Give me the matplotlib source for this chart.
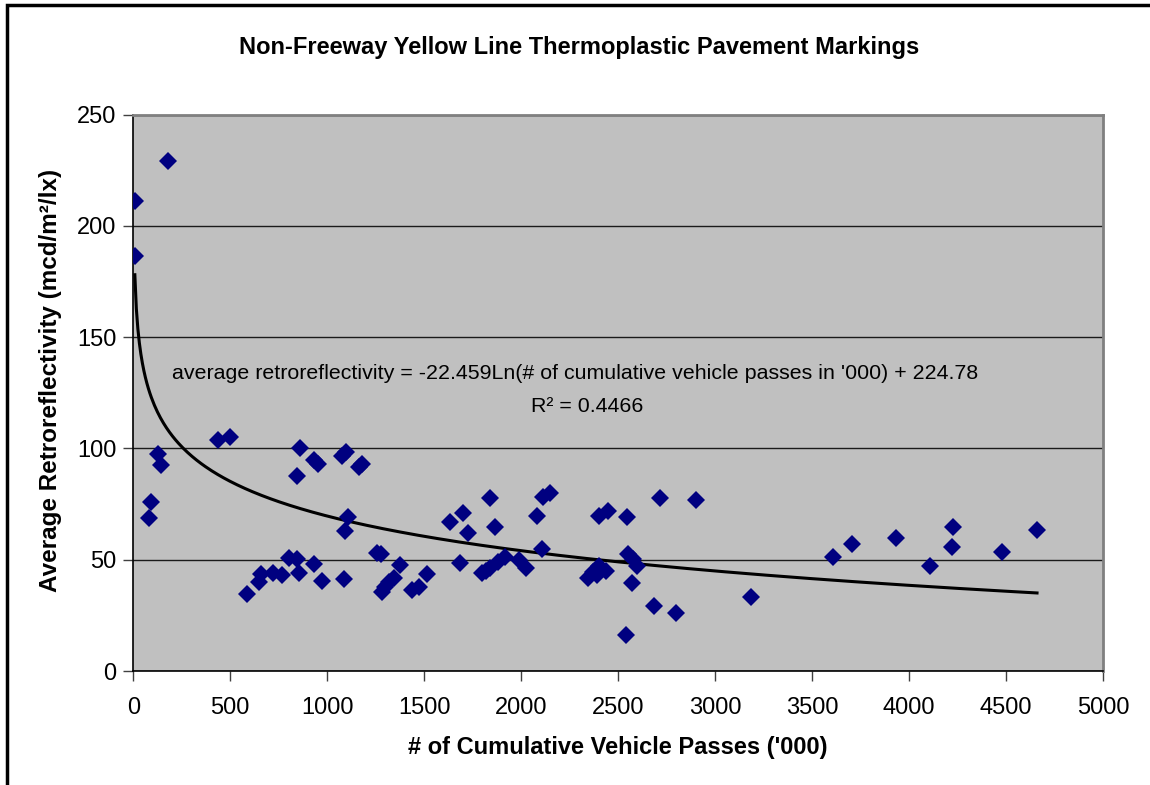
import numpy as np
import matplotlib
matplotlib.use("Agg")
import matplotlib.pyplot as plt
from matplotlib.patches import Rectangle

plt.rcParams['font.family'] = ['Liberation Sans', 'DejaVu Sans']

# cumulative vehicle passes ('000) and average retroreflectivity
passes = [
    8, 8, 180, 126, 141, 90, 79,
    438, 498,
    859, 846, 930, 950, 1075, 1095, 1165, 1180, 1108, 1091,
    588, 650, 657, 722, 765, 804, 842, 854, 933, 973, 1086,
    1255, 1275, 1280, 1300, 1320, 1345, 1375, 1435, 1474, 1512,
    1633, 1701, 1727, 1839, 1865, 1684, 1796, 1820, 1839, 1882, 1916,
    1990, 2025, 2080, 2105, 2114, 2148,
    2346, 2371, 2389, 2403, 2440, 2403, 2449, 2548, 2552, 2575, 2595,
    2569, 2543,
    2684, 2796, 2715, 2901,
    3184, 3610, 3708, 3935, 4109, 4222, 4226, 4480, 4660,
]
retro = [
    211, 186.4, 229, 97.6, 92.6, 76.1, 68.9,
    103.9, 105.3,
    100.1, 87.7, 94.8, 93.0, 96.5, 98.2, 91.5, 93.0, 69.4, 62.9,
    34.6, 40.2, 43.6, 44.2, 43.2, 50.9, 50.2, 43.9, 48.0, 40.6, 41.4,
    53.2, 52.6, 35.7, 37.8, 40.0, 42.0, 47.5, 36.4, 37.9, 43.5,
    67.1, 70.9, 62.2, 77.6, 64.9, 48.4, 43.9, 45.0, 46.2, 49.1, 51.4,
    50.0, 46.5, 69.7, 54.7, 78.4, 79.9,
    41.7, 44.6, 43.2, 47.2, 45.1, 69.7, 71.9, 69.1, 52.6, 50.5, 47.2,
    39.7, 16.2,
    29.4, 25.9, 77.6, 76.9,
    33.4, 51.1, 57.1, 59.7, 47.4, 55.9, 64.6, 53.4, 63.4,
]

# logarithmic trendline shown on the chart
slope = -22.459
intercept = 224.78
r_squared = 0.4466

x_ticks = [0, 500, 1000, 1500, 2000, 2500, 3000, 3500, 4000, 4500, 5000]
y_ticks = [0, 50, 100, 150, 200, 250]

fig = plt.figure(figsize=(11.5, 7.85), dpi=100)
ax = fig.add_axes([0.1159, 0.1452, 0.8432, 0.7087])
ax.set_facecolor('#c0c0c0')

# outer chart border (only left and top visible in the crop)
fig.patches.append(Rectangle((0.0065, -0.05), 1.2, 1.0436, transform=fig.transFigure,
                             fill=False, edgecolor='black', linewidth=2.5))

ax.grid(axis='y', color='#1a1a1a', linewidth=1.0)
ax.set_axisbelow(True)

xs = np.linspace(min(passes), max(passes), 600)
ax.plot(xs, slope * np.log(xs) + intercept, color='black', linewidth=2.2, zorder=2)

ax.plot(passes, retro, linestyle='none', marker='D', markersize=9.4,
        color='#000080', markeredgewidth=0, zorder=3)

ax.set_xlim(0, 5000)
ax.set_ylim(0, 250)
ax.set_xticks(x_ticks)
ax.set_yticks(y_ticks)
ax.tick_params(axis='both', labelsize=17, direction='out', length=7,
               width=1, color='#404040')
ax.tick_params(axis='x', pad=12)
ax.tick_params(axis='y', pad=5)

for side in ['top', 'right']:
    ax.spines[side].set_color('#808080')
    ax.spines[side].set_linewidth(2)
for side in ['left', 'bottom']:
    ax.spines[side].set_color('black')
    ax.spines[side].set_linewidth(1.2)

ax.set_xlabel("# of Cumulative Vehicle Passes ('000)", fontsize=17, fontweight='bold', labelpad=12)
ax.set_ylabel("Average Retroreflectivity (mcd/m²/lx)", fontsize=17.5, fontweight='bold')
ax.yaxis.set_label_coords(-0.074, 0.523)

fig.text(0.504, 0.94, "Non-Freeway Yellow Line Thermoplastic Pavement Markings",
         ha='center', va='center', fontsize=17, fontweight='bold')

ax.text(0.456, 0.534,
        f"average retroreflectivity = {slope}Ln(# of cumulative vehicle passes in '000) + {intercept}",
        transform=ax.transAxes, ha='center', va='center', fontsize=15.4)
ax.text(0.468, 0.475, f"R² = {r_squared}", transform=ax.transAxes,
        ha='center', va='center', fontsize=15.4)

fig.savefig('out.png', dpi=100)
